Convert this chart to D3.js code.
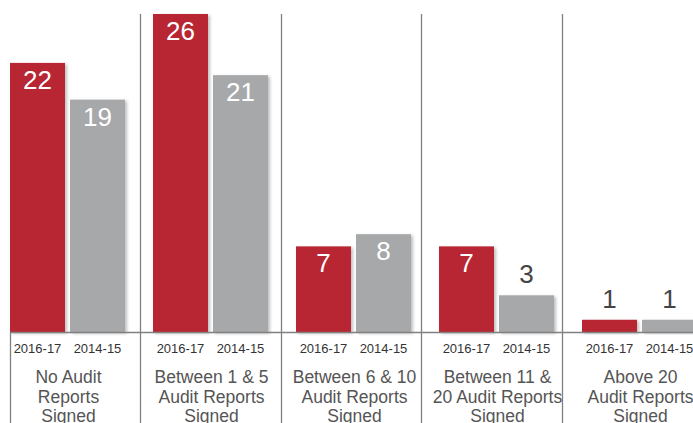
<!DOCTYPE html>
<html>
<head>
<meta charset="utf-8">
<script src="https://cdn.jsdelivr.net/npm/d3@7"></script>
<style>
  body { margin: 0; background: #fff; }
  svg { display: block; font-family: "Liberation Sans", Arial, sans-serif; }
</style>
</head>
<body>
<div id="chart"></div>
<script>
// data
let categories = ["No Audit Reports Signed", "Between 1 & 5 Audit Reports Signed",
    "Between 6 & 10 Audit Reports Signed", "Between 11 & 20 Audit Reports Signed",
    "Above 20 Audit Reports Signed"];
let categoryLines = [
    ["No Audit", "Reports", "Signed"],
    ["Between 1 & 5", "Audit Reports", "Signed"],
    ["Between 6 & 10", "Audit Reports", "Signed"],
    ["Between 11 &", "20 Audit Reports", "Signed"],
    ["Above 20", "Audit Reports", "Signed"]
];
let years = ["2016-17", "2014-15"];
let values2016 = [22, 26, 7, 7, 1];
let values2014 = [19, 21, 8, 3, 1];

let svgWidth = 693;
let svgHeight = 423;
let baseY = 332;

let colors = { "2016-17": "#b72732", "2014-15": "#a7a8aa" };

let data = categories.map((c, i) => ({
    cat: c,
    lines: categoryLines[i],
    vals: [
        { year: years[0], value: values2016[i] },
        { year: years[1], value: values2014[i] }
    ]
}));

let svg = d3.select("#chart")
    .append("svg")
    .attr("width", svgWidth)
    .attr("height", svgHeight);

// light shadow behind the bars
let filter = svg.append("defs").append("filter")
    .attr("id", "shadow")
    .attr("x", "-10%").attr("y", "-10%")
    .attr("width", "130%").attr("height", "130%");
filter.append("feDropShadow")
    .attr("dx", 2).attr("dy", 1.5)
    .attr("stdDeviation", 1.5)
    .attr("flood-color", "#000")
    .attr("flood-opacity", 0.25);

// scales
let x0 = d3.scaleBand()
    .domain(categories)
    .range([-3, -3 + 143 * categories.length]);

let x1 = d3.scaleBand()
    .domain(years)
    .range([13, 128])
    .paddingInner(1 / 12);

// dividers sit on a slightly tighter spacing than the bars
let xDiv = d3.scaleBand()
    .domain(categories)
    .range([-0.7, -0.7 + 140.7 * categories.length]);

let y = d3.scaleLinear()
    .domain([0, 26])
    .range([baseY, 14]);

// vertical dividers
svg.selectAll(".divider")
    .data(categories.slice(1))
    .enter()
    .append("line")
    .attr("x1", d => Math.round(xDiv(d)) + 0.5)
    .attr("x2", d => Math.round(xDiv(d)) + 0.5)
    .attr("y1", 14)
    .attr("y2", svgHeight)
    .attr("stroke", "#808080")
    .attr("stroke-width", 1.3);

// left edge line under the axis
svg.append("line")
    .attr("x1", 10.5).attr("x2", 10.5)
    .attr("y1", baseY).attr("y2", svgHeight)
    .attr("stroke", "#808080")
    .attr("stroke-width", 1.3);

let groups = svg.selectAll(".group")
    .data(data)
    .enter()
    .append("g")
    .attr("transform", d => `translate(${x0(d.cat)},0)`);

groups.selectAll("rect")
    .data(d => d.vals)
    .enter()
    .append("rect")
    .attr("x", d => x1(d.year))
    .attr("y", d => y(d.value))
    .attr("width", x1.bandwidth())
    .attr("height", d => baseY - y(d.value))
    .attr("fill", d => colors[d.year])
    .attr("filter", "url(#shadow)");

// value labels: inside when the bar is tall enough, above otherwise
groups.selectAll(".val")
    .data(d => d.vals)
    .enter()
    .append("text")
    .attr("x", d => x1(d.year) + x1.bandwidth() / 2)
    .attr("y", d => (baseY - y(d.value)) > 40 ? y(d.value) + 26 : y(d.value) - 12)
    .attr("text-anchor", "middle")
    .attr("font-size", 26)
    .attr("fill", d => (baseY - y(d.value)) > 40 ? "#fff" : "#444")
    .text(d => d.value);

// axis baseline
svg.append("line")
    .attr("x1", 10).attr("x2", svgWidth)
    .attr("y1", baseY + 0.5).attr("y2", baseY + 0.5)
    .attr("stroke", "#808080")
    .attr("stroke-width", 1.5);

// year labels
groups.selectAll(".yr")
    .data(years)
    .enter()
    .append("text")
    .attr("x", d => x1(d) + x1.bandwidth() / 2)
    .attr("y", 353)
    .attr("text-anchor", "middle")
    .attr("font-size", 13)
    .attr("fill", "#333")
    .text(d => d);

// category labels (last line runs off the bottom, as in the original)
groups.append("text")
    .attr("text-anchor", "middle")
    .attr("font-size", 17.5)
    .attr("fill", "#555")
    .selectAll("tspan")
    .data(d => d.lines)
    .enter()
    .append("tspan")
    .attr("x", 71.5)
    .attr("y", (d, i) => 383 + i * 19.5)
    .text(d => d);
</script>
</body>
</html>
